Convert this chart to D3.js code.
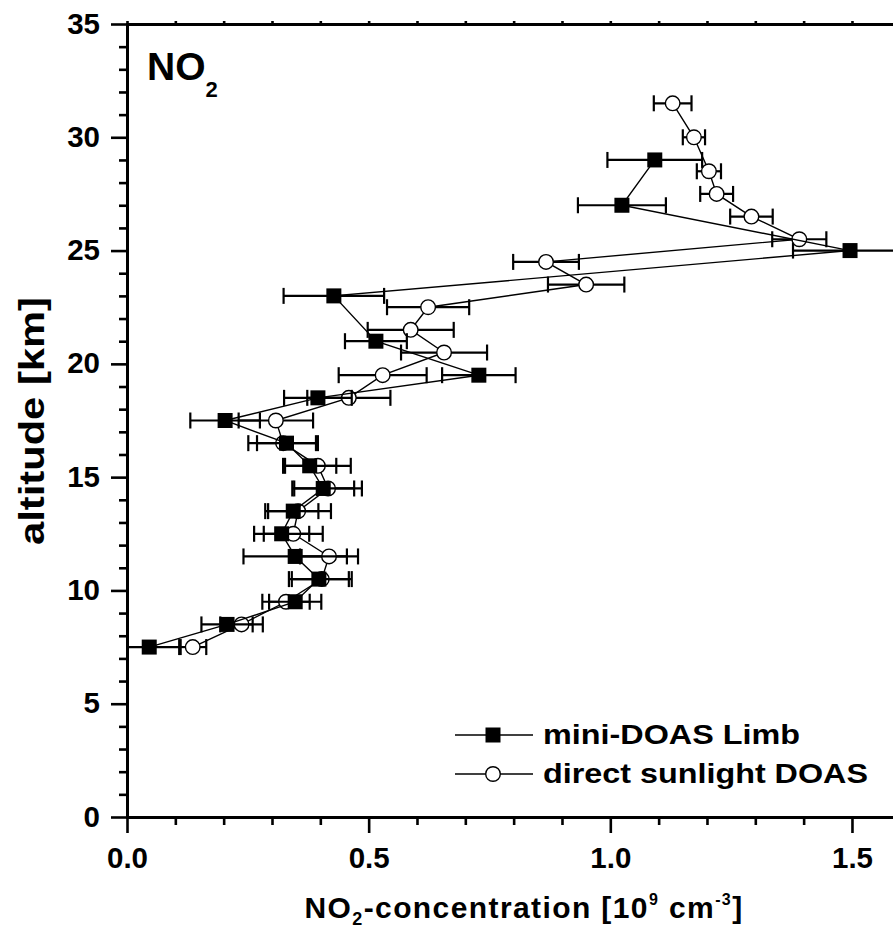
<!DOCTYPE html>
<meta charset="utf-8">
<style>
body { margin: 0; background: #fff; }
text { font-family: "Liberation Sans", Arial, sans-serif; font-weight: bold; fill: #000; }
.tick text { font-size: 29.5px; }
</style>
<svg width="893" height="928"></svg>
<script src="https://d3js.org/d3.v7.min.js"></script>
<script>

// mini-DOAS Limb (squares)
var limbAlt = [7.5, 8.5, 9.5, 10.5, 11.5, 12.5, 13.5, 14.5, 15.5, 16.5, 17.5, 18.5, 19.5, 21, 23, 25, 27, 29];
var limbVal = [0.046, 0.207, 0.348, 0.397, 0.348, 0.320, 0.344, 0.406, 0.378, 0.330, 0.203, 0.395, 0.728, 0.515, 0.428, 1.496, 1.024, 1.092];
var limbErr = [0.065, 0.053, 0.054, 0.062, 0.107, 0.057, 0.052, 0.064, 0.055, 0.061, 0.072, 0.070, 0.076, 0.064, 0.104, 0.118, 0.091, 0.098];

// direct sunlight DOAS (circles)
var dsAlt = [7.5, 8.5, 9.5, 10.5, 11.5, 12.5, 13.5, 14.5, 15.5, 16.5, 17.5, 18.5, 19.5, 20.5, 21.5, 22.5, 23.5, 24.5, 25.5, 26.5, 27.5, 28.5, 30, 31.5];
var dsVal = [0.136, 0.237, 0.329, 0.403, 0.418, 0.344, 0.354, 0.416, 0.395, 0.323, 0.308, 0.459, 0.529, 0.656, 0.587, 0.623, 0.950, 0.867, 1.391, 1.292, 1.220, 1.204, 1.173, 1.129];
var dsErr = [0.028, 0.044, 0.049, 0.062, 0.060, 0.061, 0.068, 0.070, 0.068, 0.072, 0.077, 0.086, 0.091, 0.089, 0.089, 0.085, 0.079, 0.068, 0.056, 0.044, 0.034, 0.025, 0.023, 0.039];

var xMajor = [0, 0.5, 1.0, 1.5];
var yMajor = [0, 5, 10, 15, 20, 25, 30, 35];
var legendLabels = ["mini-DOAS Limb", "direct sunlight DOAS"];

var svg = d3.select("svg");

var x = d3.scaleLinear().domain([0, 1.6]).range([127, 900.3]);
var y = d3.scaleLinear().domain([0, 35]).range([817, 24]);

var xMinor = d3.range(0, 16).map(function(i) { return i / 10; }).filter(function(d) { return (Math.round(d * 10) % 5) !== 0; });
var yMinor = d3.range(0, 36).filter(function(d) { return d % 5 !== 0; });

function styleAxis(g) {
  g.select(".domain").attr("stroke-width", 3);
  g.selectAll(".tick line").attr("stroke-width", 2.6);
}

// minor ticks first
svg.append("g").attr("transform", "translate(0,817)")
  .call(d3.axisBottom(x).tickValues(xMinor).tickSize(8).tickSizeOuter(0).tickFormat(""))
  .call(styleAxis);
svg.append("g").attr("transform", "translate(127,0)")
  .call(d3.axisLeft(y).tickValues(yMinor).tickSize(8).tickSizeOuter(0).tickFormat(""))
  .call(styleAxis);

// top axis with tiny ticks
svg.append("g").attr("transform", "translate(0,24)")
  .call(d3.axisTop(x).tickValues(xMinor.concat(xMajor)).tickSize(3).tickSizeOuter(0).tickFormat(""))
  .call(styleAxis);

// major ticks
var gx = svg.append("g").attr("transform", "translate(0,817)")
  .call(d3.axisBottom(x).tickValues(xMajor).tickSize(16).tickSizeOuter(0).tickFormat(d3.format(".1f")))
  .call(styleAxis);
gx.selectAll(".tick text").attr("y", 51).attr("dy", 0);

var gy = svg.append("g").attr("transform", "translate(127,0)")
  .call(d3.axisLeft(y).tickValues(yMajor).tickSize(16).tickSizeOuter(0).tickPadding(11))
  .call(styleAxis);
gy.selectAll(".tick text").attr("dy", 9);

svg.selectAll(".domain").attr("stroke-linecap", "square");

// clip for data
svg.append("clipPath").attr("id", "plotclip")
  .append("rect").attr("x", 127).attr("y", 24).attr("width", 780).attr("height", 793);

var plot = svg.append("g").attr("clip-path", "url(#plotclip)");

function makeRows(alt, val, err) {
  return alt.map(function(a, i) { return { a: a, v: val[i], e: err[i] }; });
}

var line = d3.line().x(function(d) { return x(d.v); }).y(function(d) { return y(d.a); });

function drawSeries(rows, kind) {
  var g = plot.append("g");
  // error bars
  var eb = g.selectAll(".eb").data(rows).enter().append("g").attr("class", "eb");
  eb.append("line")
    .attr("x1", function(d) { return x(d.v - d.e); })
    .attr("x2", function(d) { return x(d.v + d.e); })
    .attr("y1", function(d) { return y(d.a); })
    .attr("y2", function(d) { return y(d.a); })
    .attr("stroke", "#000").attr("stroke-width", 2.2);
  [-1, 1].forEach(function(s) {
    eb.append("line")
      .attr("x1", function(d) { return x(d.v + s * d.e); })
      .attr("x2", function(d) { return x(d.v + s * d.e); })
      .attr("y1", function(d) { return y(d.a) - 8; })
      .attr("y2", function(d) { return y(d.a) + 8; })
      .attr("stroke", "#000").attr("stroke-width", 2.2);
  });
  // connecting line
  g.append("path").datum(rows).attr("d", line)
    .attr("fill", "none").attr("stroke", "#000").attr("stroke-width", 1.4);
  // markers
  if (kind === "square") {
    g.selectAll("rect").data(rows).enter().append("rect")
      .attr("x", function(d) { return x(d.v) - 7.5; })
      .attr("y", function(d) { return y(d.a) - 7.5; })
      .attr("width", 15).attr("height", 15).attr("fill", "#000");
  } else {
    g.selectAll("circle").data(rows).enter().append("circle")
      .attr("cx", function(d) { return x(d.v); })
      .attr("cy", function(d) { return y(d.a); })
      .attr("r", 7.3).attr("fill", "#fff").attr("stroke", "#000").attr("stroke-width", 1.4);
  }
}

drawSeries(makeRows(dsAlt, dsVal, dsErr), "circle");
drawSeries(makeRows(limbAlt, limbVal, limbErr), "square");

// NO2 label
var lab = svg.append("text").attr("x", 147).attr("y", 80).style("font-size", "39px");
lab.append("tspan").text("NO");
lab.append("tspan").attr("dy", 17).style("font-size", "22px").text("2");

// legend
var leg = svg.append("g");
legendLabels.forEach(function(t, i) {
  var ly = 735 + i * 39;
  leg.append("line").attr("x1", 455).attr("x2", 533).attr("y1", ly).attr("y2", ly)
    .attr("stroke", "#000").attr("stroke-width", 1.4);
  if (i === 0) {
    leg.append("rect").attr("x", 485.5).attr("y", ly - 7.5).attr("width", 15).attr("height", 15).attr("fill", "#000");
  } else {
    leg.append("circle").attr("cx", 493).attr("cy", ly).attr("r", 7.3)
      .attr("fill", "#fff").attr("stroke", "#000").attr("stroke-width", 1.4);
  }
  leg.append("text").attr("x", 543).attr("y", ly + 9).style("font-size", "28.5px")
    .attr("textLength", i === 0 ? 257 : 325).attr("lengthAdjust", "spacingAndGlyphs").text(t);
});

// x axis title
var xt = svg.append("text").attr("x", 524).attr("y", 918).attr("text-anchor", "middle")
  .style("font-size", "30px").style("letter-spacing", "1.4px");
xt.append("tspan").text("NO");
xt.append("tspan").attr("dy", 7).style("font-size", "18px").text("2");
xt.append("tspan").attr("dy", -7).text("-concentration [10");
xt.append("tspan").attr("dy", -13).style("font-size", "16px").text("9");
xt.append("tspan").attr("dy", 13).text(" cm");
xt.append("tspan").attr("dy", -13).style("font-size", "16px").text("-3");
xt.append("tspan").attr("dy", 13).text("]");

// y axis title
svg.append("text")
  .attr("transform", "translate(44,421) rotate(-90)")
  .attr("text-anchor", "middle").style("font-size", "35px")
  .attr("textLength", 248).attr("lengthAdjust", "spacingAndGlyphs")
  .text("altitude [km]");

</script>
